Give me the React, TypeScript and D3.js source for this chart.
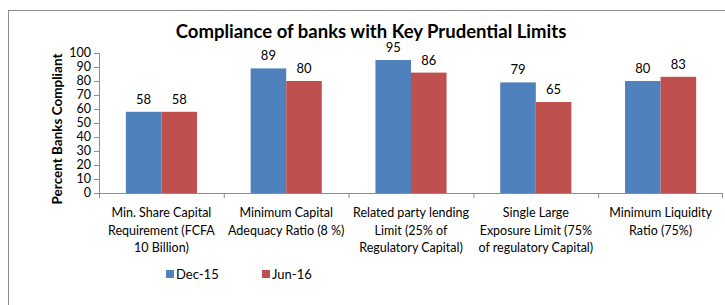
import { scaleBand, scaleLinear } from 'd3'

const categories = [
  ['Min. Share Capital', 'Requirement (FCFA', '10 Billion)'],
  ['Minimum Capital', 'Adequacy Ratio (8 %)'],
  ['Related party lending', 'Limit (25% of', 'Regulatory Capital)'],
  ['Single Large', 'Exposure Limit (75%', 'of regulatory Capital)'],
  ['Minimum Liquidity', 'Ratio (75%)'],
]
const seriesNames = ['Dec-15', 'Jun-16']
const dec15 = [58, 89, 95, 79, 80]
const jun16 = [58, 80, 86, 65, 83]
const yTicks = [0, 10, 20, 30, 40, 50, 60, 70, 80, 90, 100]
const colors = ['#4F81BD', '#C0504D']

const App = () => {
  const width = 725
  const height = 305
  const margin = { top: 53, left: 99, right: 2 }
  const plotBottom = 193
  const font = 'Lato, "Open Sans", sans-serif'

  const xScale = scaleBand<number>()
    .domain(categories.map((_, i) => i))
    .range([margin.left, width - margin.right])

  const groupWidth = xScale.bandwidth() * 0.57
  const xInner = scaleBand<number>().domain([0, 1]).range([0, groupWidth])

  const yScale = scaleLinear().domain([0, 100]).range([plotBottom, margin.top])

  const series = [dec15, jun16]

  return (
    <svg width={width} height={height} style={{ position: 'absolute', left: 0, top: 0, background: '#fff' }}>
      <rect x={8.5} y={10.5} width={740} height={320} fill='#fff' stroke='#8c8c8c' />

      <text x={371} y={38} textAnchor='middle' fontFamily={font} fontWeight='bold' fontSize={18.5}>
        Compliance of banks with Key Prudential Limits
      </text>

      {/* y axis */}
      <line x1={margin.left + 0.5} x2={margin.left + 0.5} y1={margin.top} y2={plotBottom} stroke='#8c8c8c' />
      {yTicks.map(t => (
        <g key={t} transform={`translate(0,${yScale(t)})`}>
          <line x1={margin.left - 5} x2={margin.left} y1={0.5} y2={0.5} stroke='#8c8c8c' />
          <text x={margin.left - 8} dy='.35em' textAnchor='end' fontFamily={font} fontSize={12.5}>{t}</text>
        </g>
      ))}
      <text
        transform={`translate(62,${(margin.top + plotBottom) / 2 + 6}) rotate(-90)`}
        textAnchor='middle' fontFamily={font} fontWeight='bold' fontSize={13.5}>
        Percent Banks Compliant
      </text>

      {/* bars */}
      {categories.map((_, i) => {
        const gx = (xScale(i) as number) + (xScale.bandwidth() - groupWidth) / 2
        return (
          <g key={i} transform={`translate(${gx},0)`}>
            {series.map((s, j) => (
              <g key={j}>
                <rect
                  x={xInner(j)}
                  y={yScale(s[i])}
                  width={xInner.bandwidth()}
                  height={plotBottom - yScale(s[i])}
                  fill={colors[j]}
                />
                <text
                  x={(xInner(j) as number) + xInner.bandwidth() / 2}
                  y={yScale(s[i]) - 8}
                  textAnchor='middle' fontFamily={font} fontSize={13}>
                  {s[i]}
                </text>
              </g>
            ))}
          </g>
        )
      })}

      {/* x axis */}
      <line x1={margin.left} x2={width - margin.right} y1={plotBottom + 0.5} y2={plotBottom + 0.5} stroke='#8c8c8c' />
      {categories.map((_, i) => (
        <line key={i} x1={(xScale(i) as number) + 0.5} x2={(xScale(i) as number) + 0.5}
          y1={plotBottom} y2={plotBottom + 5} stroke='#8c8c8c' />
      ))}
      <line x1={width - margin.right - 0.5} x2={width - margin.right - 0.5} y1={plotBottom} y2={plotBottom + 5} stroke='#8c8c8c' />
      {categories.map((lines, i) => (
        <text key={i} textAnchor='middle' fontFamily={font} fontSize={12.5}>
          {lines.map((l, k) => (
            <tspan key={k} x={(xScale(i) as number) + xScale.bandwidth() / 2} y={217 + k * 17.5}>{l}</tspan>
          ))}
        </text>
      ))}

      {/* legend */}
      {seriesNames.map((n, j) => (
        <g key={n} transform={`translate(${166 + j * 96},270)`}>
          <rect width={8} height={8} fill={colors[j]} />
          <text x={10} y={8.5} fontFamily={font} fontSize={13}>{n}</text>
        </g>
      ))}
    </svg>
  )
}

export default App
